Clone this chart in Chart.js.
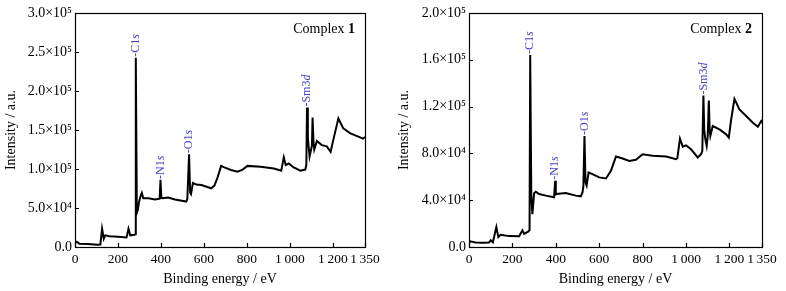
<!DOCTYPE html>
<html>
<head>
<meta charset="utf-8">
<script src="https://cdn.jsdelivr.net/npm/chart.js@4.4.0/dist/chart.umd.min.js"></script>
<style>
  html, body { margin: 0; padding: 0; background: #fff; }
  .panel { position: absolute; top: 0; width: 393px; height: 291px; }
</style>
</head>
<body>
<div class="panel" style="left:0"><canvas id="chart1" width="393" height="291"></canvas></div>
<div class="panel" style="left:393px"><canvas id="chart2" width="393" height="291"></canvas></div>
<script>
// Complex 1 survey spectrum (binding energy in eV, counts)
const energy1 = [0, 8, 20, 60, 103, 118, 126, 134, 141, 160, 200, 240, 249, 257, 277, 280, 283, 288, 293, 298, 306, 311, 318, 342, 372, 394, 398, 402, 406, 434, 465, 518, 523, 531, 536, 540, 549, 565, 588, 634, 649, 664, 680, 695, 726, 757, 780, 803, 864, 926, 960, 972, 981, 995, 1018, 1049, 1072, 1077, 1080, 1084, 1092, 1103, 1106, 1110, 1114, 1126, 1149, 1172, 1190, 1203, 1226, 1249, 1280, 1310, 1341, 1350];
const counts1 = [5000, 6800, 4300, 4000, 3000, 3200, 23400, 10600, 14900, 13800, 13200, 12300, 23400, 15000, 15700, 16500, 242500, 44000, 48000, 57400, 66000, 69400, 62500, 62500, 60800, 62000, 86000, 63000, 62500, 63400, 60800, 58300, 61700, 119000, 70000, 68000, 82000, 80000, 79500, 75300, 78700, 89400, 104000, 102000, 98700, 96600, 99300, 104000, 103000, 100600, 97900, 115000, 105000, 107000, 102000, 97900, 99300, 105000, 178700, 140000, 116000, 130000, 166000, 135000, 125000, 136000, 130600, 129000, 122000, 138000, 164700, 152000, 146000, 142500, 139000, 141000];

// Complex 2 survey spectrum
const energy2 = [0, 5, 30, 60, 92, 100, 110, 126, 135, 146, 185, 231, 246, 254, 274, 279, 282, 287, 292, 300, 308, 323, 354, 392, 397, 400, 403, 446, 492, 515, 523, 527, 532, 537, 542, 551, 569, 600, 631, 654, 677, 708, 738, 769, 800, 846, 908, 954, 960, 972, 985, 1000, 1023, 1054, 1069, 1075, 1080, 1084, 1089, 1095, 1100, 1105, 1109, 1112, 1123, 1154, 1185, 1197, 1208, 1223, 1246, 1277, 1308, 1331, 1346, 1350];
const counts2 = [3700, 4800, 3800, 3700, 3800, 5700, 4000, 17000, 8500, 10500, 9300, 9100, 14200, 11300, 13300, 14500, 164000, 45000, 28000, 46000, 47300, 45300, 43900, 42500, 56600, 45000, 45300, 46200, 43900, 43300, 46700, 52000, 94900, 55000, 52400, 63700, 62300, 59500, 58600, 65100, 77300, 75600, 73600, 74500, 79300, 77900, 77300, 75000, 76000, 92600, 85800, 86900, 83500, 76500, 79300, 82000, 129400, 100000, 92000, 86400, 95000, 125200, 100000, 94900, 103400, 100500, 96300, 93500, 109000, 126600, 117500, 111900, 106200, 102800, 107600, 106000];

// peak labels: [text pieces], energy, intensity at the peak top
const peaks1 = [
  { parts: [['-C1', false], ['s', true]], x: 283, y: 242500 },
  { parts: [['-N1', false], ['s', true]], x: 398, y: 86000 },
  { parts: [['-O1', false], ['s', true]], x: 531, y: 119000 },
  { parts: [['-Sm3', false], ['d', true]], x: 1080, y: 178700 }
];
const peaks2 = [
  { parts: [['-C1', false], ['s', true]], x: 282, y: 164000 },
  { parts: [['-N1', false], ['s', true]], x: 397, y: 56600 },
  { parts: [['-O1', false], ['s', true]], x: 532, y: 94900 },
  { parts: [['-Sm3', false], ['d', true]], x: 1080, y: 129400 }
];

const xTicks = [0, 200, 400, 600, 800, 1000, 1200, 1350];
const SERIF = "'Liberation Serif', 'Times New Roman', serif";
const SUP = { 4: '\u2074', 5: '\u2075' };
const PEAK_COLOR = '#4343c4';

function fmtX(v) {
  // thin space as thousands separator
  return v >= 1000 ? Math.floor(v / 1000) + '\u2009' + String(v % 1000).padStart(3, '0') : String(v);
}

function fmtY(v) {
  if (v === 0) return '0.0';
  const exp = Math.floor(Math.log10(v) + 1e-9);
  const m = v / Math.pow(10, exp);
  return m.toFixed(1) + '\u00d710' + SUP[exp];
}

const decor = {
  id: 'decor',
  afterDatasetsDraw(chart, args, opts) {
    const ctx = chart.ctx;
    const a = chart.chartArea;
    const xs = chart.scales.x, ys = chart.scales.y;
    ctx.save();
    ctx.strokeStyle = '#000';
    ctx.lineWidth = 1.2;
    // inward tick marks
    ctx.beginPath();
    xTicks.forEach(v => {
      const px = Math.round(xs.getPixelForValue(v)) + 0.5;
      ctx.moveTo(px, a.bottom);
      ctx.lineTo(px, a.bottom - 4);
    });
    ys.ticks.forEach(t => {
      const py = Math.round(ys.getPixelForValue(t.value)) + 0.5;
      ctx.moveTo(a.left, py);
      ctx.lineTo(a.left + 4, py);
    });
    ctx.stroke();
    // frame
    ctx.strokeRect(a.left + 0.5, a.top + 0.5, a.right - a.left, a.bottom - a.top);

    // peak labels
    ctx.fillStyle = PEAK_COLOR;
    ctx.textBaseline = 'middle';
    ctx.textAlign = 'left';
    opts.peaks.forEach(p => {
      ctx.save();
      ctx.translate(xs.getPixelForValue(p.x), ys.getPixelForValue(p.y) - 1);
      ctx.rotate(-Math.PI / 2);
      let x0 = 0;
      p.parts.forEach(([t, it]) => {
        ctx.font = (it ? 'italic ' : '') + '12px ' + SERIF;
        ctx.fillText(t, x0, 0);
        x0 += ctx.measureText(t).width;
      });
      ctx.restore();
    });

    // "Complex n" caption
    ctx.fillStyle = '#000';
    ctx.textAlign = 'left';
    ctx.font = 'bold 14px ' + SERIF;
    const numW = ctx.measureText(opts.num).width;
    ctx.font = '14px ' + SERIF;
    const lblW = ctx.measureText('Complex ').width;
    const x0 = a.right - 10 - numW - lblW;
    const y0 = a.top + 16;
    ctx.fillText('Complex ', x0, y0);
    ctx.font = 'bold 14px ' + SERIF;
    ctx.fillText(opts.num, x0 + lblW, y0);
    ctx.restore();
  }
};

function makeChart(id, energy, counts, yMax, yStep, peaks, num, yWidth, padRight) {
  const pts = energy.map((e, i) => ({ x: e, y: counts[i] }));
  const font = { family: SERIF, size: 14 };
  return new Chart(document.getElementById(id), {
    type: 'line',
    data: {
      datasets: [{
        data: pts,
        borderColor: '#000',
        borderWidth: 2,
        pointRadius: 0,
        tension: 0,
        fill: false
      }]
    },
    options: {
      responsive: false,
      animation: false,
      layout: { padding: { top: 13, right: padRight, left: 0, bottom: 0 } },
      plugins: {
        legend: { display: false },
        tooltip: { enabled: false },
        decor: { peaks: peaks, num: num }
      },
      scales: {
        x: {
          type: 'linear',
          min: 0,
          max: 1350,
          afterBuildTicks: s => { s.ticks = xTicks.map(v => ({ value: v })); },
          afterFit: s => { s.height = 44; },
          grid: { display: false, drawTicks: false },
          border: { display: false },
          ticks: {
            autoSkip: false,
            maxRotation: 0,
            padding: 4,
            color: '#000',
            font: { family: SERIF, size: 13.5 },
            callback: v => fmtX(v)
          },
          title: {
            display: true,
            text: 'Binding energy / eV',
            color: '#000',
            font: font,
            padding: { top: 0, bottom: 3 }
          }
        },
        y: {
          min: 0,
          max: yMax,
          afterFit: s => { s.width = yWidth; },
          grid: { display: false, drawTicks: false },
          border: { display: false },
          ticks: {
            stepSize: yStep,
            padding: 3,
            color: '#000',
            font: font,
            callback: v => fmtY(v)
          },
          title: {
            display: true,
            text: 'Intensity / a.u.',
            color: '#000',
            font: font,
            padding: { top: 3, bottom: 0 }
          }
        }
      }
    },
    plugins: [decor]
  });
}

makeChart('chart1', energy1, counts1, 300000, 50000, peaks1, '1', 75, 28);
makeChart('chart2', energy2, counts2, 200000, 40000, peaks2, '2', 76, 24);
</script>
</body>
</html>
